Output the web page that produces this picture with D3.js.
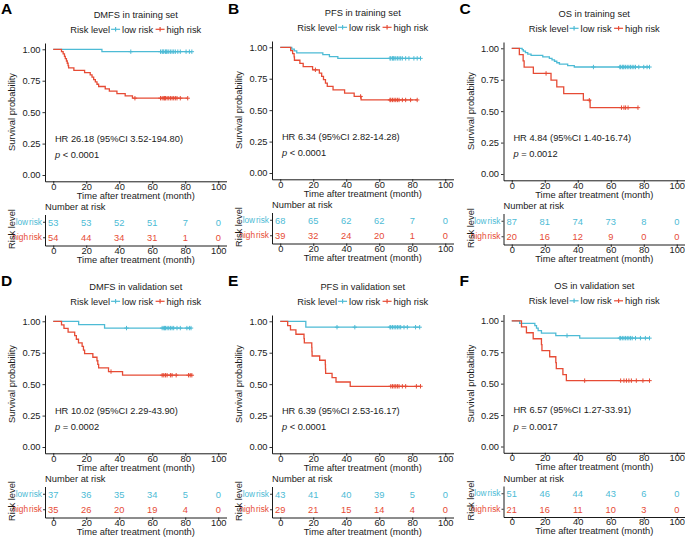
<!DOCTYPE html>
<html>
<head>
<meta charset="utf-8">
<script src="https://cdn.jsdelivr.net/npm/d3@7"></script>
<style>
  body { margin: 0; background: #fff; }
  text { font-family: "Liberation Sans", Arial, sans-serif; }
</style>
</head>
<body>
<div id="chart"></div>
<script>
const timeTicks = [0, 20, 40, 60, 80, 100];
const survTicks = [0, 0.25, 0.5, 0.75, 1];
const groups = ["low risk", "high risk"];
const colors = { "low risk": "#4DBBD5", "high risk": "#E64B35" };

// A - DMFS, training set
const aLow = [[0, 1], [29.5, 0.981]];
const aLowCens = [47, 65, 66, 66.5, 67, 68, 68.5, 69, 70, 71, 72, 73, 74, 75.5, 77, 80.5, 82.5, 84];
const aHigh = [[0, 1], [5, 0.981], [6, 0.963], [6.8, 0.944], [7.3, 0.926], [8, 0.907], [8.5, 0.889], [9, 0.870],
  [9.3, 0.852], [12.5, 0.833], [19, 0.815], [22.4, 0.796], [23.5, 0.778], [24.5, 0.759], [25.5, 0.741],
  [26.5, 0.722], [27.5, 0.704], [31.5, 0.685], [34, 0.667], [38.6, 0.648], [43.6, 0.630], [48, 0.611]];
const aHighCens = [49.5, 65, 66, 67, 67.5, 68, 69, 70, 71, 72, 73, 74, 75, 77, 81.5];
const aLowAtRisk = [53, 53, 52, 51, 7, 0];
const aHighAtRisk = [54, 44, 34, 31, 1, 0];

// B - PFS, training set
const bLow = [[0, 1], [7, 0.985], [8.5, 0.971], [10, 0.956], [25.8, 0.941], [29.8, 0.926], [34.9, 0.912]];
const bLowCens = [66.5, 67, 68, 68.5, 69, 70, 71, 72, 73, 74, 76, 78, 81, 83, 85];
const bHigh = [[0, 1], [6.3, 0.974], [7.5, 0.949], [8.4, 0.923], [8.6, 0.897], [11.9, 0.872], [13.9, 0.846],
  [19.6, 0.821], [23.7, 0.795], [25.1, 0.768], [26.2, 0.742], [27.4, 0.715], [28.5, 0.689], [32, 0.662],
  [39, 0.636], [44.8, 0.609], [49, 0.581]];
const bHighCens = [21.3, 48.7, 66.5, 67, 68, 69, 70, 71, 72, 74, 76, 79, 83];
const bLowAtRisk = [68, 65, 62, 62, 7, 0];
const bHighAtRisk = [39, 32, 24, 20, 1, 0];

// C - OS, training set
const cLow = [[0, 1], [6.3, 0.989], [7, 0.977], [8.3, 0.966], [9.7, 0.954], [11.7, 0.943], [18.8, 0.931],
  [22.8, 0.920], [24.4, 0.908], [25.9, 0.897], [27.3, 0.885], [28.9, 0.874], [33.9, 0.862], [37.9, 0.851]];
const cLowCens = [49.5, 65.5, 66, 67, 67.5, 68, 69, 70, 71, 72, 73, 74, 75, 77, 80, 82, 83.5];
const cHigh = [[0, 1], [4.6, 0.95], [6.9, 0.90], [7.5, 0.85], [13.1, 0.80], [23.8, 0.747], [27.3, 0.693],
  [31.5, 0.640], [43.4, 0.587], [47.5, 0.528]];
const cHighCens = [20.8, 47, 66.5, 68, 69, 70.5, 76.5];
const cLowAtRisk = [87, 81, 74, 73, 8, 0];
const cHighAtRisk = [20, 16, 12, 9, 0, 0];

// D - DMFS, validation set
const dLow = [[0, 1], [15.4, 0.973], [31.1, 0.946]];
const dLowCens = [44.4, 66, 67, 67.5, 68, 69, 70, 71, 72, 73, 75, 77, 81, 82.5, 83.5];
const dHigh = [[0, 1], [5, 0.971], [6.5, 0.943], [9, 0.914], [13, 0.886], [14, 0.857], [15.3, 0.829],
  [17.5, 0.800], [18.3, 0.771], [19, 0.743], [24, 0.714], [26.5, 0.686], [27, 0.657], [27.5, 0.629],
  [33.5, 0.600], [42, 0.571]];
const dHighCens = [35, 66, 67, 68, 69, 71, 72, 74.5, 82, 83, 84];
const dLowAtRisk = [37, 36, 35, 34, 5, 0];
const dHighAtRisk = [35, 26, 20, 19, 4, 0];

// E - PFS, validation set
const eLow = [[0, 1], [15.5, 0.953]];
const eLowCens = [34.4, 45.2, 66.5, 67, 68, 69, 70, 71, 72, 73, 75, 77, 82, 84.5];
const eHigh = [[0, 1], [4.5, 0.966], [6.2, 0.931], [9.5, 0.897], [14.4, 0.862], [14.6, 0.828], [19.1, 0.793],
  [19.2, 0.759], [19.3, 0.724], [23.9, 0.690], [27.3, 0.655], [27.4, 0.621], [27.5, 0.586], [31.4, 0.552],
  [33.8, 0.517], [42.4, 0.483]];
const eHighCens = [67, 68, 69, 70, 71, 72, 74, 76, 82.5, 85];
const eLowAtRisk = [43, 41, 40, 39, 5, 0];
const eHighAtRisk = [29, 21, 15, 14, 4, 0];

// F - OS, validation set
const fLow = [[0, 1], [4.8, 0.980], [14, 0.961], [15, 0.941], [16, 0.922], [18, 0.902], [26.7, 0.882], [41.2, 0.862]];
const fLowCens = [33.5, 65.5, 66, 67, 68, 69, 70, 71, 72, 73, 75, 78, 81, 83.5];
const fHigh = [[0, 1], [5.9, 0.952], [8.9, 0.905], [13, 0.857], [18, 0.810], [18.3, 0.762], [23, 0.714],
  [26.7, 0.667], [27, 0.619], [31, 0.571], [33.1, 0.524]];
const fHighCens = [44.2, 66, 68, 69.5, 71, 72.5, 75.5, 79.5, 83.5];
const fLowAtRisk = [51, 46, 44, 43, 6, 0];
const fHighAtRisk = [21, 16, 11, 10, 3, 0];

const panels = [
  { letter: "A", title: "DMFS in training set", hr: "HR 26.18 (95%CI 3.52-194.80)", p: " < 0.0001",
    curves: [[aLow, aLowCens, aLowAtRisk], [aHigh, aHighCens, aHighAtRisk]] },
  { letter: "B", title: "PFS in training set", hr: "HR 6.34 (95%CI 2.82-14.28)", p: " < 0.0001",
    curves: [[bLow, bLowCens, bLowAtRisk], [bHigh, bHighCens, bHighAtRisk]] },
  { letter: "C", title: "OS in training set", hr: "HR 4.84 (95%CI 1.40-16.74)", p: " = 0.0012",
    curves: [[cLow, cLowCens, cLowAtRisk], [cHigh, cHighCens, cHighAtRisk]] },
  { letter: "D", title: "DMFS in validation set", hr: "HR 10.02 (95%CI 2.29-43.90)", p: " = 0.0002",
    curves: [[dLow, dLowCens, dLowAtRisk], [dHigh, dHighCens, dHighAtRisk]] },
  { letter: "E", title: "PFS in validation set", hr: "HR 6.39 (95%CI 2.53-16.17)", p: " < 0.0001",
    curves: [[eLow, eLowCens, eLowAtRisk], [eHigh, eHighCens, eHighAtRisk]] },
  { letter: "F", title: "OS in validation set", hr: "HR 6.57 (95%CI 1.27-33.91)", p: " = 0.0017",
    curves: [[fLow, fLowCens, fLowAtRisk], [fHigh, fHighCens, fHighAtRisk]] }
];

const colLeft = [0, 227, 458.5];
const rowTop = [0, 272];
const nudge = [0, -2, -1, 0, 0, -0.5];
const ink = "#1a1a1a";

const svg = d3.select("#chart").append("svg")
  .attr("width", 685).attr("height", 539);

// survival value at time t for a step list
function survAt(steps, t) {
  let s = 1;
  steps.forEach(d => { if (d[0] <= t) s = d[1]; });
  return s;
}

function styleAxis(g) {
  g.selectAll(".domain").attr("stroke", "#000").attr("stroke-width", 0.9);
  g.selectAll(".tick line").attr("stroke", "#000").attr("stroke-width", 0.8);
  g.selectAll(".tick text").style("font-size", "9.3px").attr("fill", ink);
}

function drawPanel(p, ox, oy) {
  const g = svg.append("g").attr("transform", `translate(${ox},${oy})`);
  const x = d3.scaleLinear().domain([-5, 105]).range([45, 226.5]);
  const y = d3.scaleLinear().domain([-0.05, 1.05]).range([181.3, 43]);
  const mid = (x.range()[0] + x.range()[1]) / 2;

  g.append("text").text(p.title)
    .attr("x", mid).attr("y", 17.5).attr("text-anchor", "middle")
    .style("font-size", "9.3px").attr("fill", ink);

  // legend
  const lg = g.append("g");
  let cx = 0;
  const lt = lg.append("text").text("Risk level").attr("x", cx).style("font-size", "9.3px").attr("fill", ink);
  cx += lt.node().getComputedTextLength() + 1;
  groups.forEach(grp => {
    const key = lg.append("g").attr("transform", `translate(${cx},-3.2)`);
    key.append("line").attr("x1", 0).attr("x2", 9).attr("stroke", colors[grp]).attr("stroke-width", 1.2);
    key.append("line").attr("x1", 4.5).attr("x2", 4.5).attr("y1", -2.2).attr("y2", 2.2)
      .attr("stroke", colors[grp]).attr("stroke-width", 1.2);
    cx += 11;
    const t = lg.append("text").text(grp).attr("x", cx).style("font-size", "9.3px").attr("fill", ink);
    cx += t.node().getComputedTextLength() + 2.5;
  });
  lg.attr("transform", `translate(${mid - (cx - 2.5) / 2},32.5)`);

  // axes
  g.append("g").attr("transform", "translate(45,0)")
    .call(d3.axisLeft(y).tickValues(survTicks).tickFormat(d3.format(".2f")).tickSize(2.5).tickSizeOuter(0).tickPadding(2))
    .call(styleAxis);
  g.append("g").attr("transform", "translate(0,181.3)")
    .call(d3.axisBottom(x).tickValues(timeTicks).tickSize(2.5).tickSizeOuter(0))
    .call(styleAxis)
    .call(a => a.selectAll(".tick text").attr("y", 1.8));

  g.append("text").text("Time after treatment (month)")
    .attr("x", mid).attr("y", 198.5).attr("text-anchor", "middle").style("font-size", "9.3px").attr("fill", ink);
  g.append("text").text("Survival probability")
    .attr("transform", `translate(15,112) rotate(-90)`).attr("text-anchor", "middle")
    .style("font-size", "9.3px").attr("fill", ink);

  // curves
  const line = d3.line().x(d => x(d[0])).y(d => y(d[1])).curve(d3.curveStepAfter);
  p.curves.forEach((c, i) => {
    const [steps, cens] = c;
    const col = colors[groups[i]];
    const end = Math.max(d3.max(cens), steps[steps.length - 1][0]);
    const pts = steps.concat([[end, survAt(steps, end)]]);
    g.append("path").datum(pts).attr("d", line)
      .attr("fill", "none").attr("stroke", col).attr("stroke-width", 1.3);
    g.append("g").selectAll("g").data(cens).enter().append("g")
      .attr("transform", t => `translate(${x(t)},${y(survAt(steps, t))})`)
      .each(function () {
        const m = d3.select(this);
        m.append("line").attr("x1", -2.2).attr("x2", 2.2).attr("stroke", col).attr("stroke-width", 1);
        m.append("line").attr("y1", -2.2).attr("y2", 2.2).attr("stroke", col).attr("stroke-width", 1);
      });
  });

  // HR and p annotation
  g.append("text").text(p.hr).attr("x", x(1)).attr("y", y(0.29) + 3.3)
    .style("font-size", "9.3px").attr("fill", ink);
  const pt = g.append("text").attr("x", x(1)).attr("y", y(0.16) + 3.3)
    .style("font-size", "9.3px").attr("fill", ink);
  pt.append("tspan").text("p").style("font-style", "italic");
  pt.append("tspan").text(p.p);

  // risk table
  g.append("text").text("Number at risk").attr("x", 45).attr("y", 210)
    .style("font-size", "9.3px").attr("fill", ink);
  const ty = d3.scaleBand().domain(groups).range([214.5, 245.5]);
  const yAx = g.append("g").attr("transform", "translate(45,0)")
    .call(d3.axisLeft(ty).tickSize(2).tickSizeOuter(0).tickPadding(1))
    .call(styleAxis);
  yAx.selectAll(".tick text")
    .style("font-size", "8.3px").style("word-spacing", "-1.3px")
    .attr("fill", d => colors[d]);
  g.append("g").attr("transform", "translate(0,245.5)")
    .call(d3.axisBottom(x).tickValues(timeTicks).tickSize(2.5).tickSizeOuter(0))
    .call(styleAxis)
    .call(a => a.selectAll(".tick text").attr("y", 1.8));
  p.curves.forEach((c, i) => {
    const grp = groups[i];
    g.append("g").selectAll("text").data(c[2]).enter().append("text")
      .text(d => d)
      .attr("x", (d, j) => x(timeTicks[j]))
      .attr("y", ty(grp) + ty.bandwidth() / 2 + 3.3)
      .attr("text-anchor", "middle")
      .style("font-size", "9.3px").attr("fill", colors[grp]);
  });
  g.append("text").text("Time after treatment (month)")
    .attr("x", mid).attr("y", 262.5).attr("text-anchor", "middle").style("font-size", "9.3px").attr("fill", ink);
  g.append("text").text("Risk level")
    .attr("transform", `translate(15,229) rotate(-90)`).attr("text-anchor", "middle")
    .style("font-size", "9.3px").attr("fill", ink);
}

panels.forEach((p, i) => {
  const ox = colLeft[i % 3], top = rowTop[Math.floor(i / 3)];
  drawPanel(p, ox, top + nudge[i]);
  svg.append("text").text(p.letter)
    .attr("x", ox + 1).attr("y", top + 14)
    .style("font-weight", "bold").style("font-size", "15.5px").attr("fill", "#000");
});
</script>
</body>
</html>
